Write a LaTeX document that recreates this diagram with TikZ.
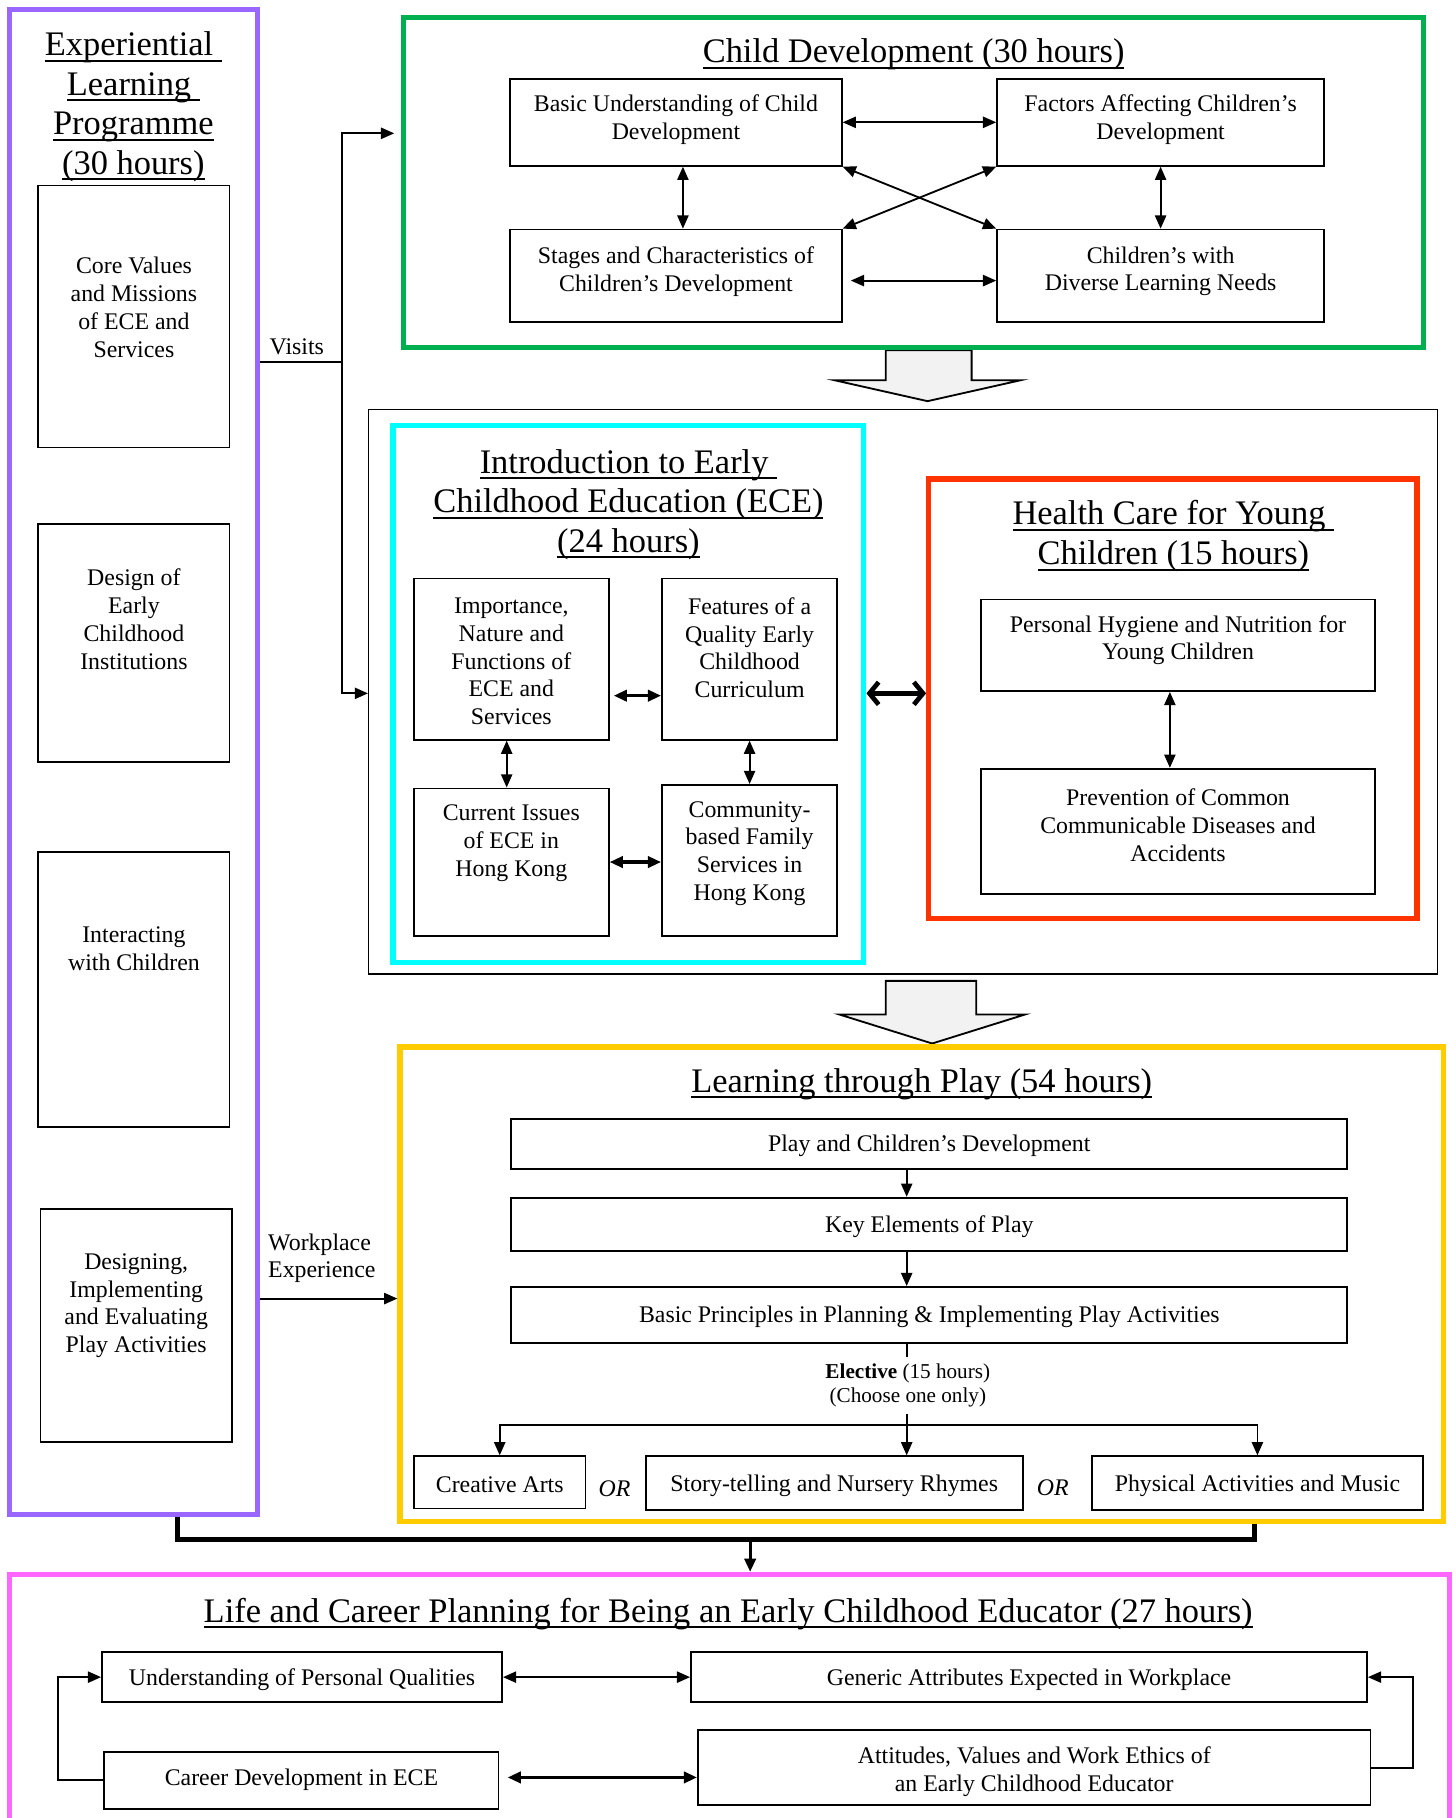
\documentclass[tikz,border=0pt]{standalone}
\usepackage{fontspec}
\setmainfont{Liberation Serif}
\usetikzlibrary{positioning,fit,arrows.meta}
\newcommand{\ttlline}[1]{\begingroup\setbox0\hbox{#1}\rlap{\rule[-3pt]{\wd0}{1pt}}\box0\endgroup}
\definecolor{expcol}{HTML}{9966FF}
\definecolor{cdcol}{HTML}{00B050}
\definecolor{ececol}{HTML}{00FFFF}
\definecolor{hccol}{HTML}{FF3300}
\definecolor{playcol}{HTML}{FFCC00}
\definecolor{lifecol}{HTML}{FF66FF}
\definecolor{blockcol}{HTML}{F2F2F2}
\tikzset{
  box/.style={draw, line width=0.9pt, inner sep=0pt},
  txt/.style={inner sep=0pt, align=center, yshift=-1.2pt, font=\fontsize{11.7}{13.6}\selectfont},
  sect/.style={draw=#1, line width=2.6pt, inner sep=0pt},
  ttl/.style={inner sep=0pt, align=center, font=\fontsize{16.9}{19.4}\selectfont},
  blk/.style={draw, line width=0.9pt, fill=blockcol},
  link/.style={line width=0.9pt},
  link2/.style={line width=1.6pt},
  fat/.style={line width=2.3pt, >={Straight Barb[length=4.5pt,width=11pt]}},
  bar/.style={line width=2.6pt}
}

\begin{document}
\begin{tikzpicture}[x=0.02cm, y=-0.02cm, >={Triangle[length=6.5pt,width=5.5pt]}]
\useasboundingbox (0,0) rectangle (1255,1568);

\draw[blk] (764,302) -- (764,328) -- (720,328) -- (800,346) -- (880,328) -- (838,328) -- (838,302) -- cycle;
\draw[blk] (764,846) -- (764,875) -- (724,875) -- (804,900) -- (884,875) -- (842,875) -- (842,846) -- cycle;

\node[sect=expcol, fit={(8,8) (222,1306)}] (exp) {};
\node[sect=cdcol, fit={(348,15) (1228,300)}] (cd) {};
\node[draw, line width=0.7pt, inner sep=0pt, fit={(318,353) (1240,840)}] (mid) {};
\node[sect=ececol, fit={(339,367) (745,830)}] (ece) {};
\node[sect=hccol, fit={(801,413) (1222,792)}] (hc) {};
\node[sect=playcol, fit={(345,903) (1245,1312)}] (play) {};
\node[sect=lifecol, fit={(8,1358) (1250,1620)}] (life) {};

\node[ttl] (exp-t) at (115,92) {\ttlline{Experiential\ }\\\ttlline{Learning\ }\\\ttlline{Programme}\\\ttlline{(30 hours)}};
\node[ttl] (cd-t) at (788,47) {\ttlline{Child Development (30 hours)}};
\node[ttl] (ece-t) at (542,435) {\ttlline{Introduction to Early\ }\\\ttlline{Childhood Education (ECE)}\\\ttlline{(24 hours)}};
\node[ttl] (hc-t) at (1012,462.5) {\ttlline{Health Care for Young\ }\\\ttlline{Children (15 hours)}};
\node[ttl] (play-t) at (795,935) {\ttlline{Learning through Play (54 hours)}};
\node[ttl] (life-t) at (628,1392) {\ttlline{Life and Career Planning for Being an Early Childhood Educator (27 hours)}};

\node[box, fit={(33,160) (198,386)}] (core) {};
\node[txt] (core-t) at (115.5,263) {Core Values\\and Missions\\of ECE and\\Services};
\node[box, fit={(33,452) (198,657)}] (des) {};
\node[txt] (des-t) at (115.5,532) {Design of\\Early\\Childhood\\Institutions};
\node[box, fit={(33,735) (198,972)}] (int) {};
\node[txt] (int-t) at (115.5,816) {Interacting\\with Children};
\node[box, fit={(35,1043) (200,1244)}] (dia) {};
\node[txt] (dia-t) at (117.5,1124) {Designing,\\Implementing\\and Evaluating\\Play Activities};

\node[box, fit={(440,68) (726,143)}] (bud) {};
\node[txt] (bud-t) at (583,101) {Basic Understanding of Child\\Development};
\node[box, fit={(860,68) (1142,143)}] (fac) {};
\node[txt] (fac-t) at (1001,101) {Factors Affecting Children's\\Development};
\node[box, fit={(440,198) (726,278)}] (stg) {};
\node[txt] (stg-t) at (583,232) {Stages and Characteristics of\\Children's Development};
\node[box, fit={(860,198) (1142,278)}] (div) {};
\node[txt] (div-t) at (1001,232) {Children's with\\Diverse Learning Needs};

\node[box, fit={(357,499) (525,638)}] (imp) {};
\node[txt] (imp-t) at (imp) {Importance,\\Nature and\\Functions of\\ECE and\\Services};
\node[box, fit={(571,499) (722,638)}] (feat) {};
\node[txt] (feat-t) at (646.5,556.5) {Features of a\\Quality Early\\Childhood\\Curriculum};
\node[box, fit={(357,680) (525,807)}] (cur) {};
\node[txt] (cur-t) at (441,725) {Current Issues\\of ECE in\\Hong Kong};
\node[box, fit={(571,677) (722,807)}] (comm) {};
\node[txt] (comm-t) at (646.5,734) {Community-\\based Family\\Services in\\Hong Kong};

\node[box, fit={(846,517) (1186,596)}] (hyg) {};
\node[txt] (hyg-t) at (1016,550) {Personal Hygiene and Nutrition for\\Young Children};
\node[box, fit={(846,663) (1186,771)}] (prev) {};
\node[txt] (prev-t) at (1016,709.5) {Prevention of Common\\Communicable Diseases and\\Accidents};

\node[box, fit={(441,965) (1162,1008)}] (pcd) {};
\node[txt] (pcd-t) at (pcd) {Play and Children's Development};
\node[box, fit={(441,1033) (1162,1079)}] (kep) {};
\node[txt] (kep-t) at (kep) {Key Elements of Play};
\node[box, fit={(441,1110) (1162,1158)}] (plan) {};
\node[txt] (plan-t) at (plan) {Basic Principles in Planning \& Implementing Play Activities};
\node[txt, font=\fontsize{10.4}{11.9}\selectfont, inner sep=3pt] (elec) at (783,1193) {\textbf{Elective} (15 hours)\\(Choose one only)};
\node[box, fit={(357,1256) (505,1301)}] (arts) {};
\node[txt] (arts-t) at (arts) {Creative Arts};
\node[box, fit={(557,1256) (882,1302)}] (story) {};
\node[txt] (story-t) at (story) {Story-telling and Nursery Rhymes};
\node[box, fit={(942,1256) (1227,1302)}] (phys) {};
\node[txt] (phys-t) at (phys) {Physical Activities and Music};
\node[txt] (or1) at (530,1282) {\textit{OR}};
\node[txt] (or2) at (908,1281) {\textit{OR}};

\node[box, fit={(88,1425) (433,1468)}] (upq) {};
\node[txt] (upq-t) at (upq) {Understanding of Personal Qualities};
\node[box, fit={(596,1425) (1179,1468)}] (gen) {};
\node[txt] (gen-t) at (gen) {Generic Attributes Expected in Workplace};
\node[box, fit={(90,1511) (430,1560)}] (car) {};
\node[txt] (car-t) at (260,1533) {Career Development in ECE};
\node[box, fit={(602,1492) (1182,1557)}] (att) {};
\node[txt] (att-t) at (892,1526) {Attitudes, Values and Work Ethics of\\an Early Childhood Educator};

\node[txt] (vis) at (256,297) {Visits};
\node[txt, align=left, anchor=west] (wpe) at (231,1083) {Workplace\\Experience};

\coordinate (vj) at (295,312);
\coordinate (vup) at (340,115);
\coordinate (vdn) at (0,598);
\coordinate (wp) at (0,1120);
\draw[link] (exp.east |- vj) -- (vj);
\draw[link,->] (vj) |- (vup);
\draw[link,->] (vj) |- (mid.west |- vdn);
\draw[link,->] (exp.east |- wp) -- (play.west |- wp);

\draw[link,<->] (bud) -- (fac);
\draw[link,<->,shorten <=4pt] (stg.east |- 0,242) -- (div.west |- 0,242);
\draw[link,<->] (bud.south -| 589,0) -- (stg.north -| 589,0);
\draw[link,<->] (fac) -- (div);
\draw[link,<->] (bud.south east) -- (div.north west);
\draw[link,<->] (fac.south west) -- (stg.north east);

\coordinate (ef) at (0,600);
\draw[link2,<->,shorten <=2pt] (imp.east |- ef) -- (feat.west |- ef);
\draw[link2,<->] (cur) -- (comm.west |- cur);
\draw[link,<->] (imp.south -| 437,0) -- (cur.north -| 437,0);
\draw[link,<->] (feat) -- (comm);

\coordinate (hp) at (1009,0);
\draw[link,<->] (hyg.south -| hp) -- (prev.north -| hp);

\coordinate (cr) at (0,598);
\draw[fat,<->] (ece.east |- cr) -- (hc.west |- cr);

\coordinate (ej) at (782,1229);
\draw[link,->] (pcd.south -| ej) -- (kep.north -| ej);
\draw[link,->] (kep.south -| ej) -- (plan.north -| ej);
\draw[link] (plan.south -| ej) -- (elec.north -| ej);
\draw[link] (elec.south -| ej) -- (ej);
\draw[link,->] (ej) -| (arts.north);
\draw[link,->] (ej) -- (story.north -| ej);
\draw[link,->] (ej) -| (phys.north);

\coordinate (bl) at (153,1328);
\coordinate (br) at (1082,1328);
\coordinate (bj) at (647,1328);
\draw[bar] (exp.south -| bl) -- (bl) -- (br) -- (play.south -| br);
\draw[link2,->] (bj) -- (life.north -| bj);

\coordinate (st) at (0,1533);
\coordinate (ll) at (50,0);
\coordinate (rl) at (1219,0);
\draw[link,<->] (upq) -- (gen);
\draw[link2,<->,shorten <=4pt] (car.east |- st) -- (att.west |- st);
\draw[link,->] (car.west) -- (car.west -| ll) |- (upq.west);
\draw[link,->] (att.east) -- (att.east -| rl) |- (gen.east);
\end{tikzpicture}
\end{document}
